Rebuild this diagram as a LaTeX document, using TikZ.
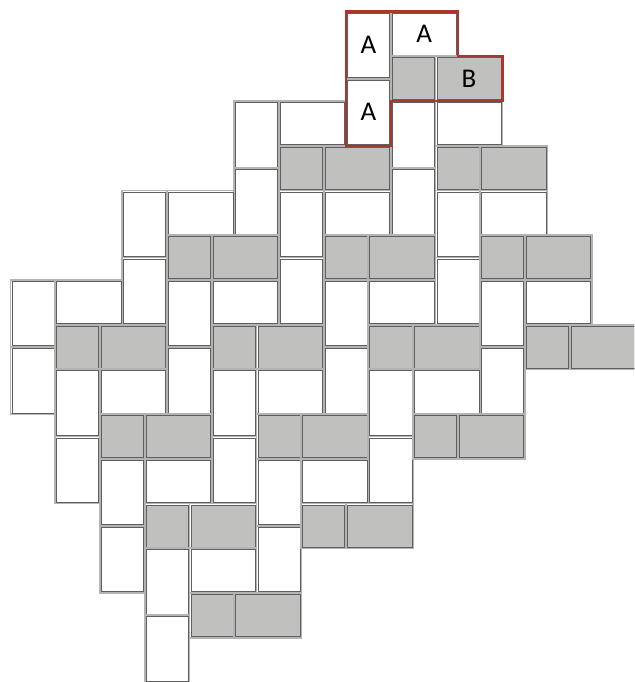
\documentclass[tikz,border=0pt]{standalone}
\usepackage{fontspec}
\setmainfont{Carlito}
\usepackage{tikz}
\usetikzlibrary{calc}
\definecolor{tilegrey}{RGB}{192,193,190}
\definecolor{edgegrey}{RGB}{95,95,95}
\definecolor{jointgrey}{RGB}{180,180,180}
\definecolor{markred}{RGB}{170,55,45}

\tikzset{
  joint/.style={draw=jointgrey, line width=1.8pt},
  tile/.style={draw=edgegrey, line width=.45pt},
  plain/.style={tile, fill=white},
  shaded/.style={tile, fill=tilegrey},
  lbl/.style={font=\fontsize{27}{30}\selectfont}
}
\newcommand\tilebox[4]{%
  \draw[joint] (#2,#3) rectangle ++(#4);
  \draw[#1] (#2+.06,#3+.06) rectangle ++($(#4)-(.12,.12)$);}

\begin{document}
\begin{tikzpicture}[x=22.35pt,y=-22.35pt]
\useasboundingbox (-0.47,-0.515) rectangle (27.9,29.98);
\clip (-0.47,-0.515) rectangle (27.9,29.98);
% one unit per grey square corner
\foreach \sx/\sy in {17/2,12/6,19/6,7/10,14/10,21/10,2/14,9/14,16/14,23/14,4/18,11/18,18/18,6/22,13/22,8/26}{
  \tilebox{plain}{\sx-2}{\sy-2}{2,3}
  \tilebox{plain}{\sx}{\sy-2}{3,2}
  \tilebox{plain}{\sx-2}{\sy+1}{2,3}
  \tilebox{shaded}{\sx}{\sy}{2,2}
  \tilebox{shaded}{\sx+2}{\sy}{3,2}
}
% marked unit
\draw[markred, line width=2.4pt] (15,0) -- (20,0) -- (20,2) -- (22,2) -- (22,4) -- (17,4) -- (17,6) -- (15,6) -- cycle;
\node[lbl] (a1) at (16,1.5) {A};
\node[lbl] (a2) at (18.5,1) {A};
\node[lbl] (a3) at (16,4.5) {A};
\node[lbl] (b) at (20.5,3) {B};
\end{tikzpicture}
\end{document}
